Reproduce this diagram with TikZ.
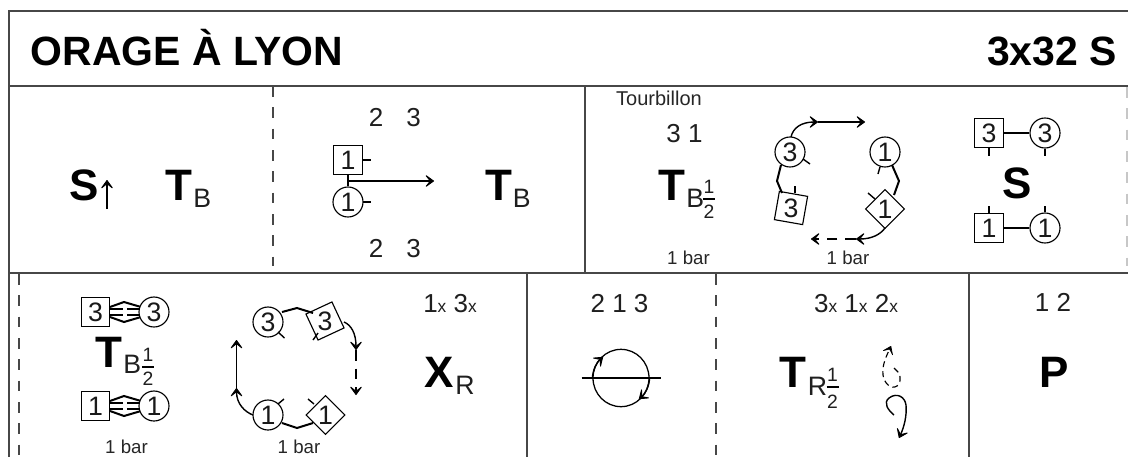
\documentclass[tikz,border=0pt]{standalone}
\usepackage{fontspec}
\setmainfont{Liberation Sans}
\usetikzlibrary{arrows.meta,shapes.geometric}
\newcommand{\xmarkfont}{\fontsize{13}{13}\selectfont}
\tikzset{
 frameline/.style={line width=1.2pt,draw=black!72},
 dashline/.style={line width=1pt,draw=black!72,dash pattern=on 8pt off 8pt},
 dancer/.style={draw,line width=.85pt,fill=white,inner sep=0pt,font=\fontsize{20}{20}\selectfont,text=black!90},
 sq/.style={dancer,rectangle,minimum size=21.5pt},
 ci/.style={dancer,circle,minimum size=22.5pt},
 dia/.style={dancer,rectangle,minimum size=20.5pt,rotate=45},
 tickmark/.style={line width=1.05pt},
 hold/.style={line width=1.5pt},
 num/.style={font=\fontsize{19.5}{20}\selectfont,inner sep=0pt,text=black!88,anchor=base},
 small/.style={font=\fontsize{14}{15}\selectfont,inner sep=0pt,text=black!85},
 big/.style={font=\fontsize{33}{33}\bfseries\selectfont,inner sep=0pt},
 sub/.style={font=\fontsize{20}{20}\selectfont,inner sep=0pt,text=black!88},
 frac/.style={font=\fontsize{14.5}{14.5}\selectfont,inner sep=0pt,text=black!88},
 bar/.style={line width=.85pt},
 walk/.style={line width=1.05pt,-{Stealth[quick,length=8pt,width=11.5pt,inset=4.6pt,line width=.7pt,round]}},
 titlefont/.style={font=\fontsize{30.7}{31}\bfseries\selectfont,inner sep=0pt},
}
\begin{document}
\begin{tikzpicture}[x=0.75pt,y=-0.75pt]
\useasboundingbox (0,0) rectangle (1128,457);
\fill[white] (0,0) rectangle (1128,457);
% frame
\coordinate (tl) at (9,11); \coordinate (tr) at (1128,11);
\coordinate (ml) at (9,86); \coordinate (mr) at (1128,86);
\coordinate (rl) at (9,273); \coordinate (rr) at (1128,273);
\coordinate (bl) at (9,457);
\draw[frameline] (tr)--(tl)--(bl);
\draw[frameline] (ml)--(mr);
\draw[frameline] (rl)--(rr);
\coordinate (v1a) at (585,86); \coordinate (v1b) at (585,273);
\draw[frameline] (v1a)--(v1b);
\coordinate (v2a) at (527,273); \coordinate (v2b) at (527,457);
\draw[frameline] (v2a)--(v2b);
\coordinate (v3a) at (969,273); \coordinate (v3b) at (969,457);
\draw[frameline] (v3a)--(v3b);
\coordinate (d1a) at (273,86); \coordinate (d1b) at (273,266);
\draw[dashline] (d1a)--(d1b);
\coordinate (d2a) at (19,274); \coordinate (d2b) at (19,457);
\draw[dashline] (d2a)--(d2b);
\coordinate (d3a) at (716,274); \coordinate (d3b) at (716,457);
\draw[dashline] (d3a)--(d3b);
\coordinate (d4a) at (1127,87); \coordinate (d4b) at (1127,266);
\draw[dashline,draw=black!22] (d4a)--(d4b);
% title
\node[titlefont,anchor=base west] (title) at (30.5,65) {ORAGE À LYON};
\node[titlefont,anchor=base east] (form) at (1117,65) {3x32 S};
% cell 1
\node[big,anchor=base] (s1) at (84,200) {S};
\coordinate (ua) at (107,209); \coordinate (ub) at (107,180);
\draw[walk] (ua)--(ub);
\node[big,anchor=base] (t1) at (178.5,200) {T};
\node[sub,anchor=base west] (b1) at (193,207) {B};
% cell 2
\node[num] (n2a) at (376,126) {2};
\node[num] (n3a) at (413.5,126) {3};
\node[num] (n2b) at (376,257) {2};
\node[num] (n3b) at (413.5,257) {3};
\node[sq] (sq1) at (348,160) {1};
\node[ci] (ci1) at (348,202) {1};
\draw[hold] (sq1.south)--(ci1.north);
\coordinate (asta) at (348,181); \coordinate (aend) at (434,181);
\draw[walk] (asta)--(aend);
\coordinate (tk1a) at (363,160); \coordinate (tk1) at (371,160); \draw[tickmark] (tk1a)--(tk1);
\coordinate (tk2a) at (363,202); \coordinate (tk2) at (371,202); \draw[tickmark] (tk2a)--(tk2);
\node[big,anchor=base] (t2) at (498.5,200) {T};
\node[sub,anchor=base west] (b2) at (512.5,207) {B};
% cell 3
\node[small,font=\fontsize{15}{15}\selectfont,anchor=base] (tour) at (659,105) {Tourbillon};
\node[num] (n31) at (684.5,142) {3 1};
\node[big,anchor=base] (t3) at (672,200) {T};
\node[sub,anchor=base west] (b3) at (686,207) {B};
\node[frac] (f3a) at (709,187) {1};
\coordinate (f3l) at (703,199); \coordinate (f3r) at (715,199); \draw[bar] (f3l)--(f3r);
\node[frac] (f3b) at (709,212) {2};
\node[small] (bar1) at (688.5,258) {1 bar};
\node[ci] (c3) at (790,152) {3};
\node[ci] (c1) at (885,152) {1};
\node[sq,rotate=-10] (s3) at (791,208) {\rotatebox{10}{3}};
\node[dia] (d1) at (885,209) {\rotatebox{-45}{1}};
\coordinate (c3ta) at (803,159); \coordinate (c3tb) at (810,164); \draw[tickmark] (c3ta)--(c3tb);
\coordinate (s3ta) at (795,193); \coordinate (s3tb) at (795,186); \draw[tickmark] (s3ta)--(s3tb);
\coordinate (c1ta) at (880,167); \coordinate (c1tb) at (878,174); \draw[tickmark] (c1ta)--(c1tb);
\coordinate (d1ta) at (875,199); \coordinate (d1tb) at (868,193); \draw[tickmark] (d1ta)--(d1tb);
\coordinate (hl) at (777,181); \coordinate (hr) at (899,181);
\draw[hold] (781,165) -- (hl) -- (782,193);
\draw[hold] (892,165) -- (hr) -- (894,195);
\coordinate (pa) at (791,137); \coordinate (pb) at (818,122); \coordinate (pc) at (865,122);
\draw[walk] (pa) .. controls (793,128) and (801,122) .. (pb);
\draw[walk] (pb) -- (pc);
\coordinate (qa) at (885,228); \coordinate (qb) at (856,239); \coordinate (qc) at (811,239);
\draw[walk] (qa) .. controls (880,235) and (871,239) .. (qb);
\draw[walk,dash pattern=on 8pt off 6pt] (qb) -- (qc);
\node[small] (bar2) at (848,258) {1 bar};
\node[sq] (s3b) at (989,133) {3};
\node[ci] (c3b) at (1045,133) {3};
\node[big,anchor=base] (s4) at (1017,198) {S};
\node[sq] (s1b) at (989,228) {1};
\node[ci] (c1b) at (1045,228) {1};
\draw[hold] (s3b)--(c3b);
\draw[hold] (s1b)--(c1b);
\coordinate (t31) at (989,156); \draw[tickmark] (s3b.south)--(t31);
\coordinate (t32) at (1045,156); \draw[tickmark] (c3b.south)--(t32);
\coordinate (t11) at (989,206); \draw[tickmark] (s1b.north)--(t11);
\coordinate (t12) at (1045,206); \draw[tickmark] (c1b.north)--(t12);
% row 2 cell 1
\foreach \y in {312,406}{
 \draw[hold] (110,\y-5) -- (124,\y-10) -- (141,\y-5);
 \draw[hold] (110,\y+5) -- (124,\y+10) -- (141,\y+5);
 \draw[line width=1.05pt] (110,\y-3) -- (123,\y-3) (127,\y-3) -- (140,\y-3);
 \draw[line width=1.05pt] (110,\y+3) -- (123,\y+3) (127,\y+3) -- (140,\y+3);
}
\node[sq] (s3c) at (95.5,312) {3};
\node[ci] (c3c) at (154,312) {3};
\node[sq] (s1c) at (95.5,406) {1};
\node[ci] (c1c) at (154,406) {1};
\node[big,anchor=base] (t5) at (108.5,367) {T};
\node[sub,anchor=base west] (b5) at (123,373) {B};
\node[frac] (f5a) at (148,355) {1};
\coordinate (f5l) at (142,367); \coordinate (f5r) at (154,367); \draw[bar] (f5l)--(f5r);
\node[frac] (f5b) at (148,379) {2};
\node[small] (bar3) at (126.5,447) {1 bar};
\node[ci] (c3d) at (268,322) {3};
\node[sq,rotate=25] (s3d) at (325,321) {\rotatebox{-25}{3}};
\node[ci] (c1d) at (268,415) {1};
\node[dia] (d1d) at (325.5,415) {\rotatebox{-45}{1}};
\coordinate (ht) at (297,308); \coordinate (hb) at (297,428);
\draw[hold] (282,312) -- (ht) -- (313,313);
\draw[hold] (282,423) -- (hb) -- (313,423);
\coordinate (e1a) at (278,332); \coordinate (e1) at (284.5,338); \draw[tickmark] (e1a)--(e1);
\coordinate (e2a) at (318,333); \coordinate (e2) at (313,340); \draw[tickmark] (e2a)--(e2);
\coordinate (e3a) at (278,404); \coordinate (e3) at (284,399); \draw[tickmark] (e3a)--(e3);
\coordinate (e4a) at (314,404); \coordinate (e4) at (308,399); \draw[tickmark] (e4a)--(e4);
\coordinate (ra) at (344,322); \coordinate (rb) at (356,350); \coordinate (rc) at (356,395);
\draw[walk] (ra) .. controls (351,325) and (356,333) .. (rb);
\draw[walk,dash pattern=on 8pt off 6pt] (rb) -- (rc);
\coordinate (la) at (253,415); \coordinate (lb) at (236.5,388); \coordinate (lc) at (236.5,340);
\draw[walk] (la) .. controls (245,412) and (236.5,404) .. (lb);
\draw[walk] (lb) -- (lc);
\node[small] (bar4) at (299,447) {1 bar};
\node[num] (n13x) at (450,312) {1{\xmarkfont x} 3{\xmarkfont x}};
\node[big,anchor=base] (x1) at (439,387) {X};
\node[sub,anchor=base west] (r1) at (455,394) {R};
% row 2 cell 2
\node[num] (n213) at (619.5,312) {2 1 3};
\node[draw,line width=.95pt,ellipse,minimum width=42pt,minimum height=43pt,inner sep=0pt] (orb) at (621,378) {};
\coordinate (ol) at (581.5,378); \coordinate (or) at (660.5,378);
\draw[line width=.95pt] (ol)--(or);
\draw[walk] (orb.west) .. controls (593,370) and (596,363) .. (603,357);
\draw[walk] (orb.east) .. controls (649,386) and (646,393) .. (639,399);
% row 2 cell 3
\node[num] (n312) at (856,312) {3{\xmarkfont x} 1{\xmarkfont x} 2{\xmarkfont x}};
\node[big,anchor=base] (t6) at (793,387) {T};
\node[sub,anchor=base west] (r2) at (807.5,395) {R};
\node[frac] (f6a) at (832.5,375) {1};
\coordinate (f6l) at (826.5,387); \coordinate (f6r) at (838.5,387); \draw[bar] (f6l)--(f6r);
\node[frac] (f6b) at (832.5,402) {2};
\coordinate (l1s) at (894,368); \coordinate (l1e) at (891,346);
\draw[line width=.85pt,dash pattern=on 4.5pt off 3pt,-{Stealth[quick,length=7pt,width=10pt,inset=4pt,line width=.5pt,round]}]
 (l1s) .. controls (900,372) and (903,381) .. (897,386)
 .. controls (891,390) and (884,383) .. (883,375)
 .. controls (882,365) and (886,357) .. (l1e);
\coordinate (l2s) at (894,415); \coordinate (l2e) at (899,438);
\draw[walk]
 (l2s) .. controls (888,410) and (883,403) .. (889,398)
 .. controls (897,392) and (905,397) .. (906,405)
 .. controls (907,416) and (904,427) .. (l2e);
% row 2 cell 4
\node[num] (n12) at (1053,311) {1 2};
\node[big,anchor=base] (p1) at (1054,387) {P};
\end{tikzpicture}
\end{document}
